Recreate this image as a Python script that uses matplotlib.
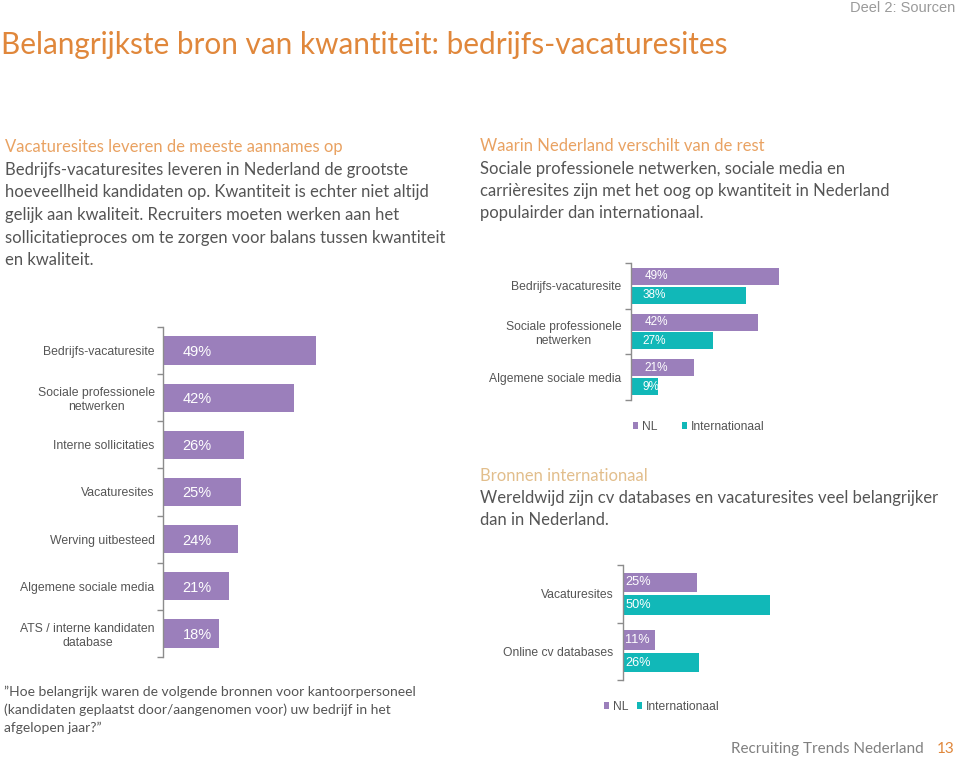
import matplotlib
matplotlib.use("Agg")
import matplotlib.pyplot as plt
import numpy as np

# ---------------- data ----------------
main_categories = ["Bedrijfs-vacaturesite", "Sociale professionele\nnetwerken",
                   "Interne sollicitaties", "Vacaturesites", "Werving uitbesteed",
                   "Algemene sociale media", "ATS / interne kandidaten\ndatabase"]
main_values = [49, 42, 26, 25, 24, 21, 18]

diff_categories = ["Bedrijfs-vacaturesite", "Sociale professionele\nnetwerken",
                   "Algemene sociale media"]
diff_nl = [49, 42, 21]
diff_intl = [38, 27, 9]

intl_categories = ["Vacaturesites", "Online cv databases"]
intl_nl = [25, 11]
intl_intl = [50, 26]

series_names = ["NL", "Internationaal"]

# ---------------- style ----------------
PURPLE = "#9B7FBB"
TEAL = "#11B8B8"
ORANGE = "#E0873B"
ORANGE_L = "#E9A262"
BEIGE = "#E2BE8C"
GRAY = "#555555"
LGRAY = "#555555"
AX_GRAY = "#8C8C8C"
BODY = "Lato"
CHART = "Liberation Sans"

W, H = 960, 760
fig = plt.figure(figsize=(W / 100, H / 100), dpi=100)
fig.patch.set_facecolor("white")


def ftxt(x, y, s, **kw):
    kw.setdefault("va", "center")
    kw.setdefault("ha", "left")
    return fig.text(x / W, 1 - y / H, s, **kw)


def ax_px(x0, y0, x1, y1):
    return fig.add_axes([x0 / W, 1 - y1 / H, (x1 - x0) / W, (y1 - y0) / H])


def style_axis(ax, n, fs, pad=7):
    for s in ["top", "right", "bottom"]:
        ax.spines[s].set_visible(False)
    ax.spines["left"].set_color(AX_GRAY)
    ax.spines["left"].set_linewidth(1.0)
    ax.set_xticks([])
    ax.set_yticks(np.arange(n))
    ax.set_yticks(np.arange(n + 1) - 0.5, minor=True)
    ax.tick_params(axis="y", which="major", length=0, pad=pad, labelsize=fs,
                   labelcolor=LGRAY)
    ax.tick_params(axis="y", which="minor", length=4, color=AX_GRAY, width=1)
    ax.set_facecolor("none")


def finish_labels(ax, cats):
    ax.set_yticklabels(cats)
    for lbl in ax.get_yticklabels():
        lbl.set_fontfamily(CHART)
        lbl.set_multialignment("center")


# ---------------- texts ----------------
ftxt(955, 8, "Deel 2: Sourcen", ha="right", fontsize=10.5, color="#9A9A9A",
     family=["Liberation Sans Narrow", "Liberation Sans"])
ftxt(1, 45, "Belangrijkste bron van kwantiteit: bedrijfs-vacaturesites",
     fontsize=21.4, color=ORANGE, family=BODY)

ftxt(5, 147, "Vacaturesites leveren de meeste aannames op", fontsize=12,
     color=ORANGE_L, family=BODY)
left_lines = ["Bedrijfs-vacaturesites leveren in Nederland de grootste",
              "hoeveellheid kandidaten op. Kwantiteit is echter niet altijd",
              "gelijk aan kwaliteit. Recruiters moeten werken aan het",
              "sollicitatieproces om te zorgen voor balans tussen kwantiteit",
              "en kwaliteit."]
for i, s in enumerate(left_lines):
    ftxt(5, 170 + 22.5 * i, s, fontsize=12, color=GRAY, family=BODY)

ftxt(480, 146, "Waarin Nederland verschilt van de rest", fontsize=12,
     color=ORANGE_L, family=BODY)
right_lines = ["Sociale professionele netwerken, sociale media en",
               "carrièresites zijn met het oog op kwantiteit in Nederland",
               "populairder dan internationaal."]
for i, s in enumerate(right_lines):
    ftxt(480, 169 + 22 * i, s, fontsize=12, color=GRAY, family=BODY)

ftxt(480, 476, "Bronnen internationaal", fontsize=12, color=BEIGE, family=BODY)
intl_lines = ["Wereldwijd zijn cv databases en vacaturesites veel belangrijker",
              "dan in Nederland."]
for i, s in enumerate(intl_lines):
    ftxt(480, 498 + 22 * i, s, fontsize=12, color=GRAY, family=BODY)

q_lines = ["\u201dHoe belangrijk waren de volgende bronnen voor kantoorpersoneel",
           "(kandidaten geplaatst door/aangenomen voor) uw bedrijf in het",
           "afgelopen jaar?\u201d"]
for i, s in enumerate(q_lines):
    ftxt(4, 692 + 18 * i, s, fontsize=10, color=GRAY, family=BODY)

ftxt(924, 749, "Recruiting Trends Nederland", ha="right", fontsize=11,
     color="#808080", family=BODY)
ftxt(955, 749, "13", ha="right", fontsize=11, color=ORANGE, family=BODY)

# ---------------- left chart ----------------
ax1 = ax_px(163, 327, 463, 657)
y1 = np.arange(len(main_categories))
ax1.barh(y1, main_values, height=0.6, color=PURPLE)
ax1.set_xlim(0, 300 / 3.12)
ax1.set_ylim(len(main_categories) - 0.5, -0.5)
style_axis(ax1, len(main_categories), 8.8, pad=6)
finish_labels(ax1, main_categories)
for yi, v in zip(y1, main_values):
    ax1.annotate(f"{v}%", (0, yi), xytext=(14, -1), textcoords="offset points",
                 ha="left", va="center", color="white", fontsize=10.5,
                 family=CHART)

# ---------------- top right chart ----------------
ax2 = ax_px(631, 263, 931, 400)
y2 = np.arange(len(diff_categories))
off2, h2 = 0.205, 0.37
b_nl = ax2.barh(y2 - off2, diff_nl, height=h2, color=PURPLE, label=series_names[0])
b_in = ax2.barh(y2 + off2, diff_intl, height=h2, color=TEAL, label=series_names[1])
ax2.set_xlim(0, 300 / 3.02)
ax2.set_ylim(len(diff_categories) - 0.5, -0.5)
style_axis(ax2, len(diff_categories), 8.7, pad=7)
finish_labels(ax2, diff_categories)
for yi, a, b in zip(y2, diff_nl, diff_intl):
    ax2.annotate(f"{a}%", (0, yi - off2), xytext=(10, 0), textcoords="offset points",
                 ha="left", va="center", color="white", fontsize=8.5, family=CHART)
    ax2.annotate(f"{b}%", (0, yi + off2), xytext=(8, 0), textcoords="offset points",
                 ha="left", va="center", color="white", fontsize=8.5, family=CHART)
ax2.legend(handles=[b_nl, b_in], labels=series_names, ncol=2, frameon=False,
           loc="center left", bbox_to_anchor=(628 / W, 1 - 427 / H),
           bbox_transform=fig.transFigure, handlelength=0.45, handleheight=0.45,
           handletextpad=0.3, columnspacing=2.0, borderaxespad=0,
           prop={"family": CHART, "size": 8.7}, labelcolor=LGRAY)

# ---------------- bottom right chart ----------------
ax3 = ax_px(623, 565, 923, 680)
y3 = np.arange(len(intl_categories))
off3, h3 = 0.196, 0.34
c_nl = ax3.barh(y3 - off3, intl_nl, height=h3, color=PURPLE, label=series_names[0])
c_in = ax3.barh(y3 + off3, intl_intl, height=h3, color=TEAL, label=series_names[1])
ax3.set_xlim(0, 300 / 2.94)
ax3.set_ylim(len(intl_categories) - 0.5, -0.5)
style_axis(ax3, len(intl_categories), 8.7, pad=7)
finish_labels(ax3, intl_categories)
for yi, a, b in zip(y3, intl_nl, intl_intl):
    ax3.annotate(f"{a}%", (0, yi - off3), xytext=(1.5, 0), textcoords="offset points",
                 ha="left", va="center", color="white", fontsize=9.2, family=CHART)
    ax3.annotate(f"{b}%", (0, yi + off3), xytext=(1.5, 0), textcoords="offset points",
                 ha="left", va="center", color="white", fontsize=9.2, family=CHART)
ax3.legend(handles=[c_nl, c_in], labels=series_names, ncol=2, frameon=False,
           loc="center left", bbox_to_anchor=(599 / W, 1 - 707 / H),
           bbox_transform=fig.transFigure, handlelength=0.45, handleheight=0.45,
           handletextpad=0.3, columnspacing=0.7, borderaxespad=0,
           prop={"family": CHART, "size": 8.7}, labelcolor=LGRAY)

fig.savefig("out.png", dpi=100, facecolor="white")
